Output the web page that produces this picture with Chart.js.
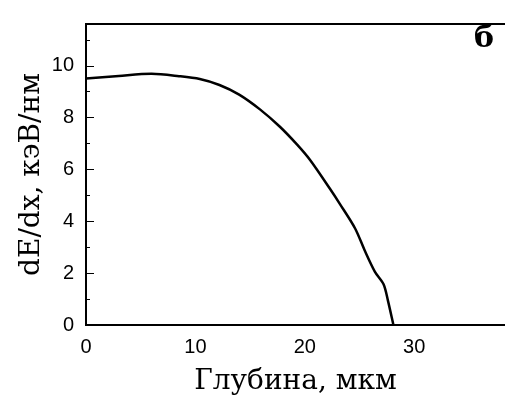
<!DOCTYPE html>
<html>
<head>
<meta charset="utf-8">
<script src="https://cdn.jsdelivr.net/npm/chart.js@4/dist/chart.umd.min.js"></script>
<style>
html,body{margin:0;padding:0;background:#fff;}
#c{display:block;}
</style>
</head>
<body>
<canvas id="c" width="505" height="397"></canvas>
<script>
// Data
const depth = [0, 3, 6, 8.5, 10.4, 12.2, 14, 15.9, 17.7, 19.3, 20.5, 22.3, 23.2, 24.6, 25.5, 26.4, 27.2, 27.6, 28.1];
const dEdx  = [9.5, 9.6, 9.68, 9.59, 9.48, 9.25, 8.88, 8.31, 7.65, 6.95, 6.35, 5.25, 4.67, 3.72, 2.85, 2.06, 1.57, 0.94, 0];
const xTicks = [0, 10, 20, 30];
const yTicks = [0, 2, 4, 6, 8, 10];
const yMinorTicks = [1, 3, 5, 7, 9, 11];
const xTitle = 'Глубина, мкм';
const yTitle = 'dE/dx, кэВ/нм';
const panelLabel = 'б';

const points = depth.map((d, i) => ({x: d, y: dEdx[i]}));

const framePlugin = {
  id: 'frame',
  afterDraw(chart) {
    const ctx = chart.ctx;
    const a = chart.chartArea;
    const ys = chart.scales.y;
    ctx.save();
    ctx.strokeStyle = '#000';
    // top border
    ctx.lineWidth = 2;
    ctx.beginPath();
    ctx.moveTo(a.left, a.top);
    ctx.lineTo(a.right, a.top);
    ctx.stroke();
    // inward ticks on y axis
    ctx.lineWidth = 1;
    yTicks.forEach(v => {
      const py = Math.round(ys.getPixelForValue(v)) + 0.5;
      ctx.beginPath(); ctx.moveTo(a.left, py); ctx.lineTo(a.left + 8, py); ctx.stroke();
    });
    yMinorTicks.forEach(v => {
      const py = Math.round(ys.getPixelForValue(v)) + 0.5;
      ctx.beginPath(); ctx.moveTo(a.left, py); ctx.lineTo(a.left + 4, py); ctx.stroke();
    });
    // panel label
    ctx.fillStyle = '#000';
    ctx.font = 'bold 30px "DejaVu Serif"';
    ctx.textAlign = 'center';
    ctx.textBaseline = 'alphabetic';
    ctx.fillText(panelLabel, 484, 47);
    ctx.restore();
  }
};

new Chart(document.getElementById('c'), {
  type: 'scatter',
  data: {
    datasets: [{
      data: points,
      showLine: true,
      borderColor: '#000',
      borderWidth: 2.5,
      pointRadius: 0,
      tension: 0.3,
      fill: false
    }]
  },
  options: {
    responsive: false,
    animation: false,
    devicePixelRatio: 1,
    layout: {padding: {top: 15, right: 0, left: 0, bottom: 0}},
    plugins: {legend: {display: false}, tooltip: {enabled: false}},
    scales: {
      x: {
        type: 'linear',
        min: 0, max: 38.3,
        afterFit(s) { s.height = 72; },
        afterBuildTicks(s) { s.ticks = xTicks.map(v => ({value: v})); },
        grid: {display: false, drawTicks: false},
        border: {display: true, color: '#000', width: 2},
        ticks: {color: '#000', padding: 10, font: {family: 'Liberation Sans', size: 20}, maxRotation: 0},
        title: {display: true, text: xTitle, color: '#000', font: {family: 'DejaVu Serif', size: 28, lineHeight: 1}, padding: {top: 0, bottom: 1}}
      },
      y: {
        type: 'linear',
        min: 0, max: 11.6,
        afterFit(s) { s.width = 86; },
        afterBuildTicks(s) { s.ticks = yTicks.map(v => ({value: v})); },
        grid: {display: false, drawTicks: false},
        border: {display: true, color: '#000', width: 2},
        ticks: {color: '#000', padding: 12, font: {family: 'Liberation Sans', size: 20}},
        title: {display: true, text: yTitle, color: '#000', font: {family: 'DejaVu Serif', size: 28, lineHeight: 1}, padding: {top: 18, bottom: 0}}
      }
    }
  },
  plugins: [framePlugin]
});
</script>
</body>
</html>
